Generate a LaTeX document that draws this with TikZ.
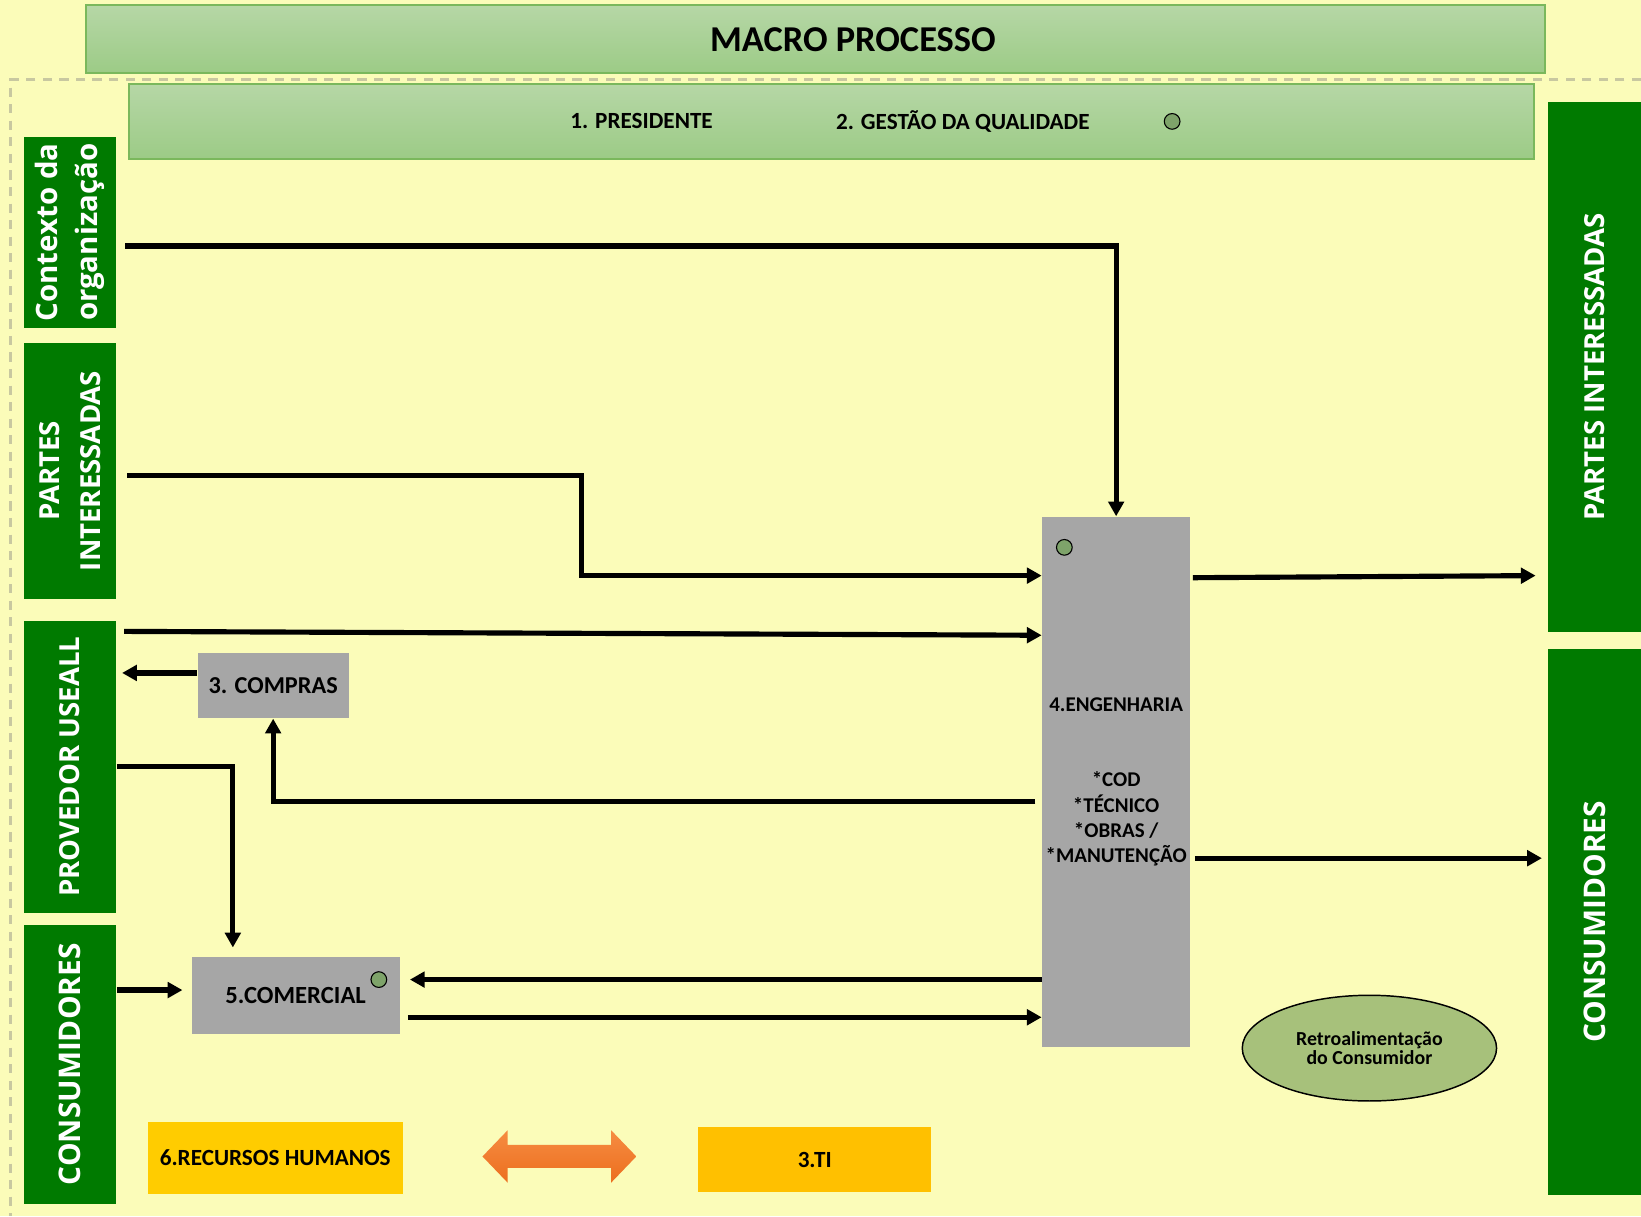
\documentclass[tikz,border=0pt]{standalone}
\usepackage{fontspec}
\setmainfont{Carlito}
\newfontfamily\sidefont{Open Sans}
\usetikzlibrary{arrows.meta, calc, shapes.geometric}

\definecolor{bgyellow}{RGB}{251,252,185}
\definecolor{framegray}{RGB}{200,200,160}
\definecolor{bandtop}{RGB}{182,215,166}
\definecolor{bandbot}{RGB}{156,203,134}
\definecolor{bandline}{RGB}{122,184,92}
\definecolor{sidegreen}{RGB}{0,122,0}
\definecolor{procgray}{RGB}{166,166,166}
\definecolor{dotgreen}{RGB}{126,163,106}
\definecolor{rhyellow}{RGB}{255,204,0}
\definecolor{tiyellow}{RGB}{255,192,0}
\definecolor{arrowtop}{RGB}{246,140,66}
\definecolor{arrowbot}{RGB}{236,110,30}
\definecolor{feedgreen}{RGB}{167,193,123}

\tikzset{
	band/.style={draw=bandline, line width=0.6pt, top color=bandtop, bottom color=bandbot, inner sep=0},
	side/.style={fill=sidegreen, minimum width=8.8mm, inner sep=0},
	sidetext/.style={rotate=90, text=white, align=center, font=\sidefont\bfseries\fontsize{#1}{11}\selectfont},
	proc/.style={fill=procgray, inner sep=0},
	dot/.style={circle, draw=black, line width=0.3pt, fill=dotgreen, minimum size=1.5mm, inner sep=0},
	flow/.style={line width=1.4pt, -{Triangle[length=4pt, width=4.2pt]}}
}

\begin{document}
\begin{tikzpicture}[x=0.1mm, y=-0.1mm]
	\useasboundingbox (0,0) rectangle (1568,1162);
	\fill[bgyellow] (0,0) rectangle (1568,1162);
	\draw[framegray, line width=0.6pt, dash pattern=on 2.5pt off 2pt] (1568,76) -- (10,76) -- (10,1162);

	\node[band, minimum width=139.4mm, minimum height=6.5mm] (macro) at (779,37.5) {};
	\node[font=\bfseries\fontsize{9.9}{11}\selectfont] (macrotitle) at (815,38) {MACRO PROCESSO};
	\node[band, minimum width=134.3mm, minimum height=7.2mm] (gestao) at (794.5,116) {};
	\node[font=\bfseries\fontsize{6.3}{7}\selectfont] (pres) at (613,116) {1. PRESIDENTE};
	\node[font=\bfseries\fontsize{6.3}{7}\selectfont] (qual) at (920,116) {2. GESTÃO DA QUALIDADE};
	\node[dot] (qualdot) at (1120,116) {};

	\node[side, minimum height=18.2mm, label={[sidetext=8]center:Contexto da\\organização}] (ctx) at (67,222) {};
	\node[side, minimum height=24.4mm, label={[sidetext=7.5]center:PARTES\\INTERESSADAS}] (partesL) at (67,450) {};
	\node[side, minimum height=27.9mm, label={[sidetext=7.5]center:PROVEDOR USEALL}] (prov) at (67,732.5) {};
	\node[side, minimum height=26.6mm, label={[sidetext=8.1]center:CONSUMIDORES}] (consL) at (67,1017) {};
	\node[side, minimum width=8.9mm, minimum height=50.7mm, label={[sidetext=7.5]center:PARTES INTERESSADAS}] (partesR) at (1523.5,350.5) {};
	\node[side, minimum width=8.9mm, minimum height=52.2mm, label={[sidetext=8.1]center:CONSUMIDORES}] (consR) at (1523.5,881) {};

	\node[proc, minimum width=14.1mm, minimum height=50.6mm, align=center, font=\bfseries\fontsize{5.7}{6.83}\selectfont] (eng) at (1066.5,747) {4.ENGENHARIA\\[13.7pt]*COD\\*TÉCNICO\\*OBRAS /\\*MANUTENÇÃO};
	\node[dot] (engdot) at (1017,523) {};
	\node[proc, minimum width=14.4mm, minimum height=6.2mm, font=\bfseries\fontsize{6.6}{8}\selectfont] (comp) at (261,655) {3. COMPRAS};
	\node[proc, minimum width=19.9mm, minimum height=7.4mm, font=\bfseries\fontsize{6.7}{8}\selectfont] (comm) at (282.5,951) {5.COMERCIAL};
	\node[dot] (commdot) at (362,936) {};

	\node[fill=rhyellow, minimum width=24.4mm, minimum height=6.9mm, inner sep=0, font=\bfseries\fontsize{6.3}{7}\selectfont] (rh) at (263,1106.5) {6.RECURSOS HUMANOS};
	\node[fill=tiyellow, minimum width=22.3mm, minimum height=6.2mm, inner sep=0, font=\bfseries\fontsize{6.3}{7}\selectfont] (ti) at (778.5,1108) {3.TI};
	\coordinate (link) at (534.5,1105);
	\shade[top color=arrowtop, bottom color=arrowbot] ($(link)+(-73.5,0)$) -- ++(24,-25) -- ++(0,14) -- ++(99,0) -- ++(0,-14) -- ++(24,25) -- ++(-24,25) -- ++(0,-14) -- ++(-99,0) -- ++(0,14) -- cycle;

	\node[ellipse, draw=black, line width=0.4pt, fill=feedgreen, minimum width=24.3mm, minimum height=10.1mm, inner sep=0, align=center, font=\bfseries\fontsize{5.4}{5.1}\selectfont] (feed) at (1308.5,1001.5) {Retroalimentação\\do Consumidor};

	\draw[flow] ($(ctx.east)+(8,13)$) -| (eng.north);
	\draw[flow] ($(partesL.east)+(10,4)$) -| (556,550) -- (eng.west |- 0,550);
	\draw[flow] ($(prov.north east)+(7,11)$) -- (eng.west |- 0,607);
	\draw[flow] ($(comp.west)+(0,-12)$) -- ($(prov.east |- 0,643)+(5,0)$);
	\draw[flow] ($(eng.west)+(-6,19)$) -| (comp.south);
	\draw[flow] (prov.east) -| ($(comm.north)+(-60,-8)$);
	\draw[flow] (consL.east |- 0,946) -- ($(comm.west |- 0,946)+(-8,0)$);
	\draw[flow] (eng.west |- 0,936) -- ($(comm.east |- 0,936)+(9,0)$);
	\draw[flow] ($(comm.east |- 0,972)+(7,0)$) -- (eng.west |- 0,972);
	\draw[flow] ($(eng.east |- 0,552)+(2,0)$) -- ($(partesR.west |- 0,550)+(-11,0)$);
	\draw[flow] ($(eng.east |- 0,820)+(4,0)$) -- ($(consR.west |- 0,820)+(-5,0)$);
\end{tikzpicture}
\end{document}
